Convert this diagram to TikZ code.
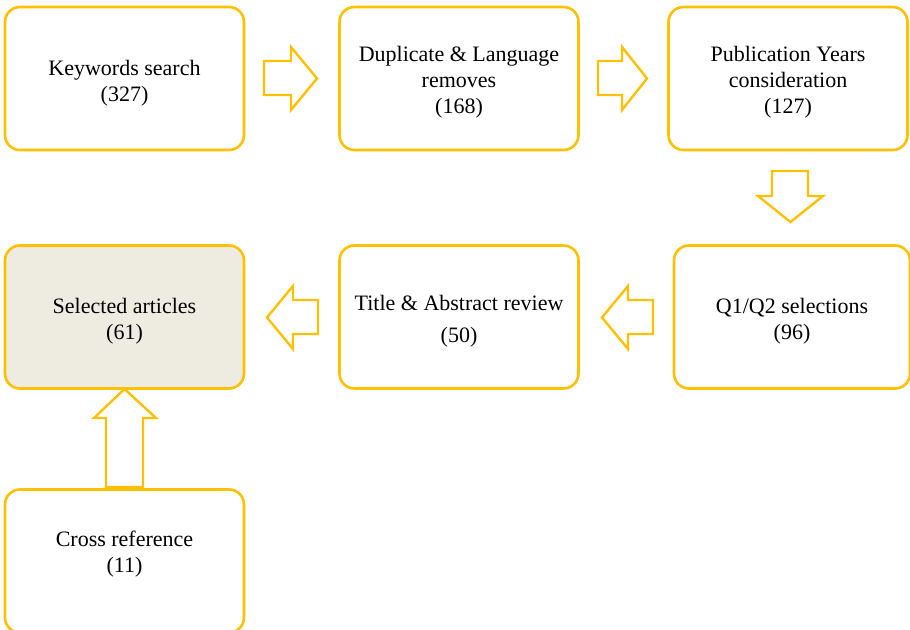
\documentclass[tikz,border=0pt]{standalone}
\usepackage{fontspec}
\setmainfont{Liberation Serif}
\definecolor{gold}{HTML}{FFC000}
\definecolor{selfill}{HTML}{EEECE1}
\begin{document}
\begin{tikzpicture}[x=0.5pt,y=-0.5pt,
  box/.style={draw=gold,line width=1.3pt,rounded corners=7.5pt,fill=white,
    minimum width=119.5pt,minimum height=71.5pt,inner sep=0pt,outer sep=0pt},
  lbl/.style={align=center,font=\fontsize{11pt}{13pt}\selectfont,inner sep=0pt},
  barrow/.style={draw=gold,line width=1.2pt,fill=white,line join=miter}]
\useasboundingbox (0,0) rectangle (910,630);
\node[box] (kw) at (124.5,78.5) {};
\node[box] (dup) at (459,78.5) {};
\node[box] (pub) at (788,78.5) {};
\node[box,fill=selfill] (sel) at (124.5,317) {};
\node[box] (tit) at (459,317) {};
\node[box,minimum width=118pt] (q) at (792,317) {};
\node[box] (cross) at (124.5,561) {};
\node[lbl] (kwt) at ([yshift=-2.3pt]kw.center) {Keywords search\\(327)};
\node[lbl] (dupt) at ([yshift=-2pt]dup.center) {Duplicate \& Language\\removes\\(168)};
\node[lbl] (pubt) at ([yshift=-2pt]pub.center) {Publication Years\\consideration\\(127)};
\node[lbl] (selt) at ([yshift=-2.3pt]sel.center) {Selected articles\\(61)};
\node[lbl] (titt) at ([yshift=-2pt]tit.center) {Title \& Abstract review\\[3.2pt](50)};
\node[lbl] (qt) at ([yshift=-2.3pt]q.center) {Q1/Q2 selections\\(96)};
\node[lbl] (crosst) at (124.5,554) {Cross reference\\(11)};
% block arrows
\draw[barrow] (264,61) -- (291,61) -- (291,47) -- (317,78.5) -- (291,110) -- (291,95) -- (264,95) -- cycle;
\draw[barrow] (598,61) -- (622,61) -- (622,47) -- (647,78.5) -- (622,110) -- (622,95) -- (598,95) -- cycle;
\draw[barrow] (772,171) -- (808,171) -- (808,196) -- (823,196) -- (790.5,222) -- (758,196) -- (772,196) -- cycle;
\draw[barrow] (653,300) -- (628,300) -- (628,286) -- (602,317.5) -- (628,349) -- (628,334) -- (653,334) -- cycle;
\draw[barrow] (318,300) -- (293,300) -- (293,286) -- (267,317.5) -- (293,349) -- (293,334) -- (318,334) -- cycle;
\draw[barrow] (106,487) -- (106,418) -- (94,418) -- (124.5,389) -- (156,418) -- (143,418) -- (143,487) -- cycle;
\end{tikzpicture}
\end{document}
